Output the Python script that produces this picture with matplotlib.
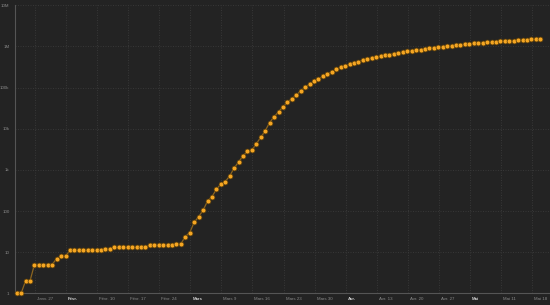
import matplotlib
matplotlib.use("Agg")
import matplotlib.pyplot as plt
import matplotlib.dates as mdates
import matplotlib.transforms as mtrans
import pandas as pd
import numpy as np

# ---- data (cumulative cases, daily from Jan 22) ----
jan = [1, 1, 2, 2, 5, 5, 5, 5, 5, 7]
feb = [8, 8, 11, 11, 11, 11, 11, 11, 11, 11, 12, 12, 13, 13, 13, 13, 13, 13, 13, 13,
       15, 15, 15, 15, 15, 15, 16, 16, 24]
mar = [30, 53, 73, 104, 174, 222, 337, 451, 519, 711, 1109, 1561, 2157, 2870, 2968,
       4360, 6141, 8914, 14153, 19479, 25818, 33756, 43845, 53740, 65778, 83836,
       101657, 121465, 140909, 161831, 188172]
apr = [213242, 243622, 275367, 308650, 336802, 366317, 397121, 428654, 462780, 496535,
       526396, 555313, 580619, 607670, 636350, 667592, 699706, 732197, 759086, 784326,
       811865, 840351, 869170, 905358, 938154, 965785, 988197, 1012582, 1039909, 1069424]
may = [1103461, 1132539, 1158040, 1180375, 1204351, 1229331, 1257023, 1283929, 1309550,
       1329260, 1347881, 1369376, 1390406, 1417774, 1442824, 1467820, 1486757, 1508308,
       1528568]
values = jan + feb + mar + apr + may
start_date = "2020-01-22"

tick_dates = ["2020-01-27", "2020-02-03", "2020-02-10", "2020-02-17", "2020-02-24",
              "2020-03-02", "2020-03-09", "2020-03-16", "2020-03-23", "2020-03-30",
              "2020-04-06", "2020-04-13", "2020-04-20", "2020-04-27", "2020-05-04",
              "2020-05-11", "2020-05-18"]
tick_labels = ["Janv. 27", "Févr.", "Févr. 10", "Févr. 17", "Févr. 24", "Mars",
               "Mars 9", "Mars 16", "Mars 23", "Mars 30", "Avr.", "Avr. 13",
               "Avr. 20", "Avr. 27", "Mai", "Mai 11", "Mai 18"]
month_labels = {"Févr.", "Mars", "Avr.", "Mai"}
y_ticks = [1, 10, 100, 1e3, 1e4, 1e5, 1e6, 1e7]
y_labels = ["1", "10", "100", "1k", "10k", "100k", "1M", "10M"]

# ---- figure ----
BG = "#232323"
fig = plt.figure(figsize=(5.5, 3.05), dpi=100, facecolor=BG)
ax = fig.add_axes([15 / 550, (305 - 293.3) / 305, 534 / 550, (293.3 - 5.3) / 305])
ax.set_facecolor(BG)

dates = pd.date_range(start_date, periods=len(values), freq="D") + pd.Timedelta(hours=21)
ax.plot(dates, values, color="#8c6520", lw=0.9, zorder=2, clip_on=False)
ax.plot(dates, values, ls="none", marker="o", ms=3.5, mfc="#f5a623",
        mec="#5a3d08", mew=0.5, zorder=3, clip_on=False)

ax.set_yscale("log")
ax.set_ylim(1, 1e7)
x0 = pd.Timestamp("2020-01-27") - pd.Timedelta(days=20 / 4.437)
x1 = pd.Timestamp("2020-05-18") + pd.Timedelta(days=17 / 4.437)
ax.set_xlim(x0, x1)

ax.yaxis.set_major_locator(matplotlib.ticker.FixedLocator(y_ticks))
ax.yaxis.set_minor_locator(matplotlib.ticker.NullLocator())
ax.set_yticklabels(y_labels)
td = [mdates.date2num(pd.Timestamp(d)) for d in tick_dates]
ax.set_xticks(td)
ax.set_xticklabels(tick_labels)

ax.grid(True, which="major", color="#3a3a3a", lw=0.6, ls=(0, (1.2, 1.8)))
ax.set_axisbelow(True)
ax.tick_params(axis="both", length=0, labelsize=3.2, colors="#8a8a8a")
ax.tick_params(axis="x", pad=2.5)
ax.tick_params(axis="y", pad=4)

offset = mtrans.ScaledTranslation(2 / 100, 0, fig.dpi_scale_trans)
for lab in ax.get_xticklabels():
    lab.set_horizontalalignment("left")
    lab.set_transform(lab.get_transform() + offset)
    lab.set_family("Liberation Sans")
    if lab.get_text() in month_labels:
        lab.set_color("#d0d0d0")
        lab.set_fontweight("bold")
for lab in ax.get_yticklabels():
    lab.set_family("Liberation Sans")

for s in ["top", "right"]:
    ax.spines[s].set_visible(False)
for s in ["left", "bottom"]:
    ax.spines[s].set_color("#555555")
    ax.spines[s].set_linewidth(0.8)

fig.savefig("out.png", dpi=100, facecolor=BG)
